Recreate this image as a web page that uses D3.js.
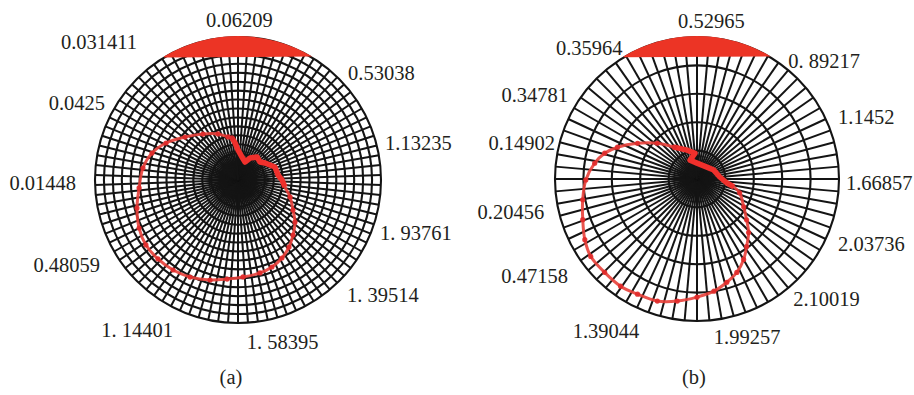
<!DOCTYPE html>
<html><head><meta charset="utf-8">
<script src="https://cdn.jsdelivr.net/npm/d3@7"></script>
<style>html,body{margin:0;padding:0;background:#fff;}svg{display:block;}</style>
</head><body>
<svg id="chart" width="914" height="395"></svg>
<script>
// ---------- data ----------
// Panel (a): red trajectory, angle (deg, clockwise from top) and radius (fraction of outer circle)
const curveAngleA = [351.9,355.4,0,9.9,21.3,28.6,39.6,50.7,57.8,64.9,70.6,78.4,82.9,90,98.5,108.1,118.6,126.4,135,142.7,150.6,158.7,166.7,177,186.3,195.6,206.3,215.8,225.4,234.8,244.1,254.5,265.4,277.2,287.4,297.2,309,322.7,336.5,346.9,351.9];
const curveRadiusA = [0.297,0.260,0.210,0.163,0.135,0.175,0.209,0.199,0.223,0.247,0.274,0.278,0.282,0.308,0.332,0.383,0.438,0.495,0.544,0.589,0.626,0.653,0.668,0.679,0.697,0.726,0.757,0.776,0.786,0.788,0.769,0.733,0.694,0.670,0.630,0.566,0.477,0.404,0.351,0.309,0.297];
const jaggedCountA = 15;

// Panel (b)
const curveAngleB = [324.3,341,355.6,339.8,0,39.8,62.1,85,97.6,102.2,108,120.8,129.4,136.1,143.7,149.9,156.9,163.9,171.4,180,189.2,198,207.3,215.5,224.7,233.9,241.6,250.4,259.7,269.5,278.8,285.6,291.8,301,312,324.3];
const curveRadiusB = [0.276,0.215,0.182,0.141,0.112,0.109,0.134,0.161,0.212,0.265,0.316,0.383,0.452,0.524,0.590,0.655,0.715,0.757,0.799,0.832,0.871,0.904,0.913,0.927,0.925,0.926,0.898,0.854,0.818,0.783,0.729,0.675,0.603,0.489,0.376,0.276];
const jaggedCountB = 10;

// Tick labels around each dial
const labelTextA = ["0.06209","0.031411","0.53038","0.0425","1.13235","0.01448","1. 93761","0.48059","1. 39514","1. 14401","1. 58395"];
const labelAngleA = [0.5,323.8,45.8,300.1,75.9,268.9,110.5,238.4,136.5,203.4,164.6];
const labelRadiusA = [1.119,1.196,1.073,1.075,1.060,1.133,1.060,1.133,1.108,1.143,1.175];

const labelTextB = ["0.52965","0.35964","0. 89217","0.34781","1.1452","0.14902","1.66857","0.20456","2.03736","0.47158","2.10019","1.39044","1.99257"];
const labelAngleB = [5.2,330.4,37.7,302.9,66.4,284.1,91.5,257.9,114.9,233,141.3,200.8,162.4];
const labelRadiusB = [1.117,1.062,1.052,1.082,1.084,1.031,1.049,1.101,1.095,1.138,1.084,1.144,1.167];

const captions = ["(a)","(b)"];
const spokeCounts = [90, 72];
const ringCounts = [16, 5];
const capHalfAngles = [31, 31];

// ---------- layout ----------
const panels = [
  {cx:238, cy:180, R:143, capX:-7, ang:curveAngleA, rad:curveRadiusA, jag:jaggedCountA,
   lt:labelTextA, la:labelAngleA, lr:labelRadiusA},
  {cx:697, cy:179, R:142, capX:-3, ang:curveAngleB, rad:curveRadiusB, jag:jaggedCountB,
   lt:labelTextB, la:labelAngleB, lr:labelRadiusB}
];

const svg = d3.select("#chart");
svg.append("rect").attr("width",914).attr("height",395).attr("fill","#fff");
const angle = d3.scaleLinear().domain([0,360]).range([0, 2*Math.PI]);
const gridColor = "#141414";
const red = "#e8403a";
const font = "'Liberation Serif','Times New Roman',serif";

panels.forEach((p, i) => {
  const r = d3.scaleLinear().domain([0,1]).range([0,p.R]);
  const g = svg.append("g").attr("transform",`translate(${p.cx},${p.cy})`);

  // rings
  const rings = d3.range(1, ringCounts[i]+1).map(k => k/ringCounts[i]);
  g.selectAll("circle.ring").data(rings).join("circle")
    .attr("class","ring").attr("r", d => r(d))
    .attr("fill","none").attr("stroke",gridColor).attr("stroke-width",2.1);

  // spokes
  const spokes = d3.range(spokeCounts[i]).map(k => k*360/spokeCounts[i]);
  g.selectAll("line.spoke").data(spokes).join("line")
    .attr("class","spoke")
    .attr("x1",0).attr("y1",0)
    .attr("x2", d => r(1)*Math.sin(angle(d)))
    .attr("y2", d => -r(1)*Math.cos(angle(d)))
    .attr("stroke",gridColor).attr("stroke-width",2.0);

  // red cap (circular segment at top)
  const h = capHalfAngles[i];
  const cp = d3.path();
  const a0 = angle(-h) - Math.PI/2, a1 = angle(h) - Math.PI/2;
  cp.moveTo(r(1)*Math.cos(a0), r(1)*Math.sin(a0));
  cp.arc(0,0,r(1)+1,a0,a1,false);
  cp.closePath();
  g.append("path").attr("d",cp.toString()).attr("fill","#ec3425");

  // trajectory
  const pts = p.ang.map((a,k) => [a, p.rad[k]]);
  const line = d3.lineRadial().angle(d => angle(d[0])).radius(d => r(d[1])).curve(d3.curveCatmullRom.alpha(0.5));
  g.append("path").attr("d", line(pts)).attr("fill","none")
    .attr("stroke",red).attr("stroke-width",3).attr("stroke-opacity",0.9);
  g.append("path").attr("d", d3.lineRadial().angle(d => angle(d[0])).radius(d => r(d[1]))(pts.slice(0,p.jag)))
    .attr("fill","none").attr("stroke","#f0302c").attr("stroke-width",5.5).attr("stroke-linejoin","round");
  g.selectAll("circle.pt").data(pts.slice(p.jag)).join("circle")
    .attr("class","pt")
    .attr("cx", d => r(d[1])*Math.sin(angle(d[0])))
    .attr("cy", d => -r(d[1])*Math.cos(angle(d[0])))
    .attr("r",2.6).attr("fill","#e02a2a").attr("opacity",0.9);

  // labels
  p.lt.forEach((t,k) => {
    const a = angle(p.la[k]);
    const s = Math.sin(a);
    const anchor = s > 0.32 ? "start" : (s < -0.32 ? "end" : "middle");
    g.append("text")
      .attr("x", r(p.lr[k])*Math.sin(a))
      .attr("y", -r(p.lr[k])*Math.cos(a))
      .attr("dy","0.33em")
      .attr("text-anchor",anchor)
      .attr("font-family",font).attr("font-size",20.5).attr("fill","#231f20")
      .text(t);
  });

  // caption
  svg.append("text").attr("x", p.cx + p.capX).attr("y", 384)
    .attr("text-anchor","middle").attr("font-family",font).attr("font-size",20.5).attr("fill","#231f20")
    .text(captions[i]);
});
</script>
</body></html>
